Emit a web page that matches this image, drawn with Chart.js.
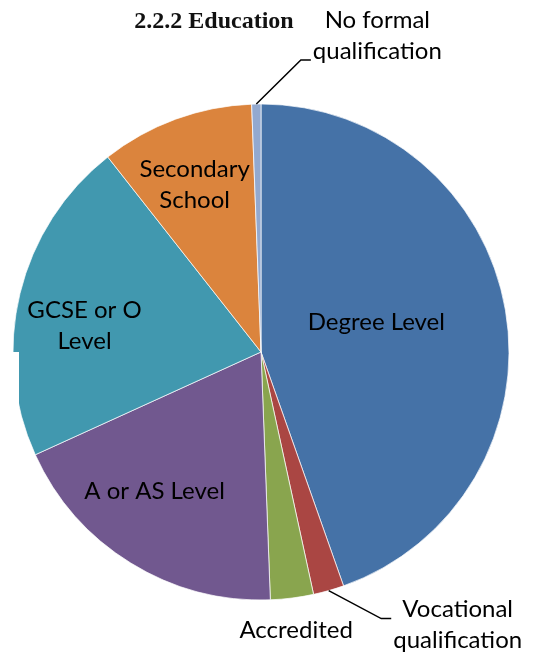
<!DOCTYPE html>
<html>
<head>
<meta charset="utf-8">
<script src="https://cdn.jsdelivr.net/npm/chart.js@4.4.1/dist/chart.umd.min.js"></script>
<style>
  html, body { margin: 0; padding: 0; background: #fff; }
  #wrap { width: 535px; height: 654px; }
</style>
</head>
<body>
<div id="wrap"><canvas id="educationChart" width="535" height="654"></canvas></div>
<script>
// data (share of respondents, %)
var categories = ['Degree Level', 'Vocational qualification', 'Accredited', 'A or AS Level',
                  'GCSE or O Level', 'Secondary School', 'No formal qualification'];
var shares = [44.6, 2.0, 2.8, 18.8, 21.2, 10.0, 0.6];
var labelLines = [['Degree Level'], ['Vocational', 'qualification'], ['Accredited'], ['A or AS Level'],
                  ['GCSE or O', 'Level'], ['Secondary', 'School'], ['No formal', 'qualification']];
var chartTitle = '2.2.2 Education';

var sliceColours = ['#4572A7', '#AA4643', '#89A54E', '#71588F', '#4198AF', '#DB843D', '#93A9CF'];

// where each label sits: r = fraction of radius along the slice middle, plus a nudge
// leader = draw a line from the slice edge to the text
var labelSpots = [
    { r: 0.48, dx: -2, dy: -10 },
    { r: 1.0, dx: 129, dy: 34, leader: true, ly: -6 },
    { r: 1.13, dx: 0, dy: 0 },
    { r: 0.71, dx: -14, dy: -11 },
    { r: 0.72, dx: -3, dy: 16 },
    { r: 0.73, dx: -4, dy: 3 },
    { r: 1.0, dx: 121, dy: -68, leader: true, ly: 24 }
];

var labelFont = '24px Lato';
var lineH = 31;

var pieLabels = {
    id: 'pieLabels',
    afterDraw: function(chart) {
        var ctx = chart.ctx;
        var arcs = chart.getDatasetMeta(0).data;
        ctx.save();

        // title
        ctx.fillStyle = '#111';
        ctx.font = 'bold 24px "Liberation Serif"';
        ctx.textAlign = 'center';
        ctx.textBaseline = 'middle';
        ctx.fillText(chartTitle, 214, 22);

        ctx.font = labelFont;
        arcs.forEach(function(arc, i) {
            var p = arc.getProps(['x', 'y', 'startAngle', 'endAngle', 'outerRadius'], true);
            var mid = (p.startAngle + p.endAngle) / 2;
            var spot = labelSpots[i];
            var ex = p.x + Math.cos(mid) * p.outerRadius;
            var ey = p.y + Math.sin(mid) * p.outerRadius;
            var cx = p.x + Math.cos(mid) * p.outerRadius * spot.r + spot.dx;
            var cy = p.y + Math.sin(mid) * p.outerRadius * spot.r + spot.dy;
            var lines = labelLines[i];
            var top = cy - (lines.length - 1) * lineH / 2;

            if (spot.leader) {
                var w = 0;
                lines.forEach(function(t) { w = Math.max(w, ctx.measureText(t).width); });
                var endX = cx - w / 2 - 2;
                var endY = cy + spot.ly;
                ctx.strokeStyle = '#000';
                ctx.lineWidth = 1.5;
                ctx.beginPath();
                ctx.moveTo(ex, ey);
                ctx.lineTo(endX - 10, endY);
                ctx.lineTo(endX, endY);
                ctx.stroke();
            }

            ctx.fillStyle = '#000';
            lines.forEach(function(t, k) {
                ctx.fillText(t, cx, top + k * lineH);
            });
        });

        // the scan cuts a little off the left edge of the pie
        ctx.fillStyle = '#fff';
        ctx.fillRect(0, 352, 19, 56);
        ctx.restore();
    }
};

var ctx = document.getElementById('educationChart').getContext('2d');
var educationChart = new Chart(ctx, {
    type: 'pie',
    data: {
        labels: categories,
        datasets: [{
            data: shares,
            backgroundColor: sliceColours,
            borderColor: 'rgba(255,255,255,0.7)',
            borderWidth: 1
        }]
    },
    options: {
        responsive: false,
        devicePixelRatio: 1,
        animation: false,
        layout: { padding: { left: 12.5, right: 25.5, top: 103.5, bottom: 53.5 } },
        plugins: {
            legend: { display: false },
            tooltip: { enabled: false }
        }
    },
    plugins: [pieLabels]
});
</script>
</body>
</html>
